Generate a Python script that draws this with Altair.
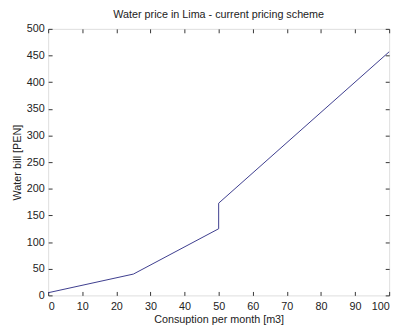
import altair as alt
import pandas as pd

consumption = [0, 25, 50, 50, 100]
bill = [5, 40, 125, 173, 457]
x_ticks = [0, 10, 20, 30, 40, 50, 60, 70, 80, 90, 100]
y_ticks = [0, 50, 100, 150, 200, 250, 300, 350, 400, 450, 500]

df = pd.DataFrame({"x": consumption, "y": bill, "order": list(range(len(bill)))})

FONT = "Liberation Sans"
AX = "#333333"
TXT = "#222222"

xs = alt.Scale(domain=[0, 100], nice=False, zero=False)
ys = alt.Scale(domain=[0, 500], nice=False, zero=False)

common = dict(grid=False, domain=False, tickColor=AX, tickSize=4, offset=-4,
              labelFont=FONT, labelFontSize=11, labelColor=TXT,
              titleFont=FONT, titleFontSize=11, titleColor=TXT, titleFontWeight="normal")

line = alt.Chart(df).mark_line(color="#3a3a8c", strokeWidth=1).encode(
    x=alt.X("x:Q", scale=xs, axis=alt.Axis(values=x_ticks, title="Consuption per month [m3]",
                                            labelPadding=5, titlePadding=3, **common)),
    y=alt.Y("y:Q", scale=ys, axis=alt.Axis(values=y_ticks, title="Water bill [PEN]",
                                            labelPadding=4, titlePadding=4, **common)),
    order="order:Q",
)

mirror = alt.Chart(df).mark_line(opacity=0).encode(
    x=alt.X("x:Q", scale=xs, axis=alt.Axis(orient="top", values=x_ticks, labels=False, title=None,
                                            grid=False, domain=False, tickColor=AX, tickSize=4, offset=-4)),
    y=alt.Y("y:Q", scale=ys, axis=alt.Axis(orient="right", values=y_ticks, labels=False, title=None,
                                            grid=False, domain=False, tickColor=AX, tickSize=4, offset=-4)),
)

chart = alt.layer(line, mirror).resolve_axis(x="independent", y="independent").properties(
    width=348, height=272,
    title=alt.TitleParams("Water price in Lima - current pricing scheme", font=FONT, fontSize=11,
                          fontWeight="normal", color=TXT, offset=3),
    autosize=alt.AutoSizeParams(type="none"),
    padding={"left": 41, "top": 18, "right": 8, "bottom": 31},
).configure_view(stroke=AX, strokeWidth=1).configure(background="white")

chart.save("out.html", embed_options={"renderer": "svg", "actions": False})
